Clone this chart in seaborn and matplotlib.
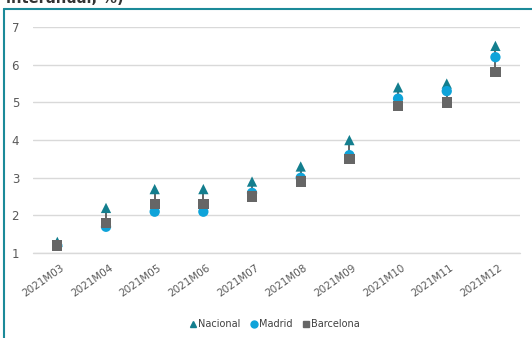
import pandas as pd
import matplotlib.pyplot as plt
import matplotlib.transforms as mtransforms
import seaborn as sns
from matplotlib.lines import Line2D

sns.set_style('white')
plt.rcParams['font.family'] = ['DejaVu Sans']

# data
months = ['2021M03', '2021M04', '2021M05', '2021M06', '2021M07',
          '2021M08', '2021M09', '2021M10', '2021M11', '2021M12']
nacional = [1.3, 2.2, 2.7, 2.7, 2.9, 3.3, 4.0, 5.4, 5.5, 6.5]
madrid = [1.2, 1.7, 2.1, 2.1, 2.6, 3.0, 3.6, 5.1, 5.3, 6.2]
barcelona = [1.2, 1.8, 2.3, 2.3, 2.5, 2.9, 3.5, 4.9, 5.0, 5.8]
series = ['Nacional', 'Madrid', 'Barcelona']

df = pd.DataFrame({'mes': months * 3,
                   'valor': nacional + madrid + barcelona,
                   'serie': [s for s in series for _ in months]})

colors = {'Nacional': '#137e8e', 'Madrid': '#0ea3d9', 'Barcelona': '#666666'}
markers = {'Nacional': '^', 'Madrid': 'o', 'Barcelona': 's'}

fig = plt.figure(figsize=(5.32, 3.38), dpi=100)
ax = fig.add_axes([0.062, 0.251, 0.915, 0.669])

# high-low lines
wide = df.pivot(index='mes', columns='serie', values='valor').loc[months]
ax.vlines(range(len(months)), wide.min(axis=1), wide.max(axis=1),
          color='#595959', lw=1.3, zorder=1)

sns.scatterplot(data=df, x='mes', y='valor', hue='serie', style='serie',
                palette=colors, markers=markers, s=55, linewidth=0,
                ax=ax, legend=False, zorder=3)

ax.set_ylim(1, 7)
ax.set_xlim(-0.5, len(months) - 0.5)
ax.set_yticks(range(1, 8))
ax.yaxis.grid(True, color='#d9d9d9', lw=1)
ax.axhline(1, color='#d9d9d9', lw=1, clip_on=False, zorder=0)
ax.set_xlabel('')
ax.set_ylabel('')
for s in ax.spines.values():
    s.set_visible(False)
ax.tick_params(axis='y', length=0, labelsize=8.5, labelcolor='#595959', pad=10)
ax.tick_params(axis='x', length=0, labelsize=7.5, labelcolor='#595959', pad=7)
shift = mtransforms.ScaledTranslation(3 / 100, 0, fig.dpi_scale_trans)
for lab in ax.get_xticklabels():
    lab.set_rotation(35)
    lab.set_ha('right')
    lab.set_rotation_mode('anchor')
    lab.set_transform(lab.get_transform() + shift)

handles = [Line2D([], [], marker=markers[s], color=colors[s], ls='',
                  markersize=5) for s in series]
fig.legend(handles, series, loc='center', bbox_to_anchor=(0.515, 1 - 324 / 338),
           ncol=3, frameon=False, fontsize=7, handletextpad=0.0,
           columnspacing=0.9, handlelength=1.0, labelcolor='#404040')

# frame and cut title
fig.add_artist(Line2D([4 / 532, 4 / 532], [0, 1 - 9 / 338], color='#1b8a99', lw=1.5))
fig.add_artist(Line2D([4 / 532, 1], [1 - 9 / 338, 1 - 9 / 338], color='#1b8a99', lw=1.5))
fig.text(6 / 532, 1 - 3 / 338, 'interanual, %)', fontsize=10.5, fontweight='bold',
         color='#333333', va='baseline')

fig.savefig('out.png', dpi=100)
